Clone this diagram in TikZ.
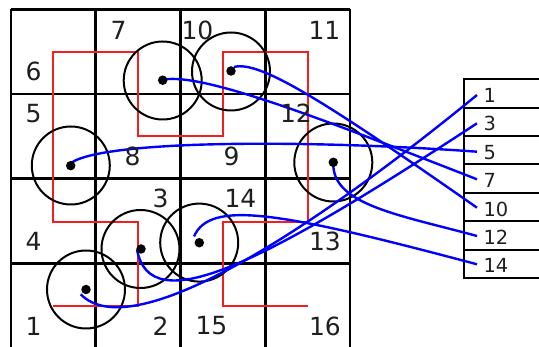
\documentclass[tikz,border=0pt]{standalone}
\usepackage{fontspec}
\setmainfont{DejaVu Sans}
\definecolor{hred}{RGB}{245,30,30}
\begin{document}
\begin{tikzpicture}[x=1pt,y=-1pt,
  gridline/.style={line width=2.6pt},
  hil/.style={draw=hred, line width=1.6pt},
  ring/.style={draw, circle, line width=2pt, minimum size=78pt, inner sep=0pt},
  dotn/.style={fill, circle, minimum size=9.5pt, inner sep=0pt},
  link/.style={draw=blue, line width=2.4pt},
  clab/.style={font=\fontsize{25}{30}\selectfont, inner sep=0pt, text=black!88},
  tlab/.style={font=\fontsize{19.4}{23}\selectfont, inner sep=0pt, anchor=west, text=black!88},
  tline/.style={line width=2pt}]
\useasboundingbox (0,0) rectangle (539,347);
% grid
\foreach \x in {11,95.75,180.5,265.25,350}
  \draw[gridline] (\x,9.3) -- (\x,349);
\foreach \y in {9.3,94.05,178.8,263.55,348.3}
  \draw[gridline] (11,\y) -- (350,\y);
% table
\draw[tline] (545,79.3) -- (464.3,79.3) -- (464.3,278.1) -- (545,278.1);
\foreach \y in {107.7,136.1,164.5,192.9,221.3,249.7}
  \draw[tline] (464.3,\y) -- (545,\y);
% hilbert path
\draw[hil] (53,306) -- (138,306) -- (138,222) -- (53,222) -- (53,52)
  -- (138,52) -- (138,136) -- (223,136) -- (223,52) -- (308,52)
  -- (308,222) -- (223,222) -- (223,306) -- (308,306);
% circles
\node[ring] (c1) at (86,289.5) {};
\node[ring] (c3) at (140.5,249) {};
\node[ring] (c5) at (70.8,165.5) {};
\node[ring] (c7) at (162.7,80.5) {};
\node[ring] (c10) at (231,71.5) {};
\node[ring] (c12) at (333.3,162.5) {};
\node[ring] (c14) at (199.2,242.6) {};
% curve start points and row ends
\coordinate (s1) at (80.7,294.3);
\coordinate (s3) at (137,249.5);
\coordinate (s5) at (68,165.5);
\coordinate (s7) at (164,79.5);
\coordinate (s10) at (234,67);
\coordinate (s12) at (333.3,164);
\coordinate (s14) at (194,236.5);
\coordinate (e1) at (477,95);
\coordinate (e3) at (477,123.3);
\coordinate (e5) at (477,151.7);
\coordinate (e7) at (477,179.3);
\coordinate (e10) at (477,207.7);
\coordinate (e12) at (477,236);
\coordinate (e14) at (477,264.3);
% blue links
\draw[link] (s1) .. controls (130,345) and (300,240) .. (e1);
\draw[link] (s3) .. controls (150,320) and (258,267) .. (e3);
\draw[link] (s5) .. controls (90,140) and (300,139) .. (e5);
\draw[link] (s7) .. controls (205,73) and (327,120.8) .. (e7);
\draw[link] (s10) .. controls (260,60) and (327,103) .. (e10);
\draw[link] (s12) .. controls (333,205) and (400,215) .. (e12);
\draw[link] (s14) .. controls (210,200) and (277,211) .. (e14);
% dots
\node[dotn] (d1) at (86,289.5) {};
\node[dotn] (d3) at (141,249) {};
\node[dotn] (d5) at (70.7,165.7) {};
\node[dotn] (d7) at (162.7,80.2) {};
\node[dotn] (d10) at (231,71) {};
\node[dotn] (d12) at (333.3,162.3) {};
\node[dotn] (d14) at (199.3,242.7) {};
% cell labels
\node[clab] (n1) at (33.5,326) {1};
\node[clab] (n2) at (160.5,326) {2};
\node[clab] (n3) at (160.5,198.5) {3};
\node[clab] (n4) at (33.5,241.5) {4};
\node[clab] (n5) at (33.5,113.5) {5};
\node[clab] (n6) at (33.5,71.5) {6};
\node[clab] (n7) at (118.5,30) {7};
\node[clab] (n8) at (132.5,156) {8};
\node[clab] (n9) at (231.5,156) {9};
\node[clab] (n10) at (197.5,30) {10};
\node[clab] (n11) at (324.5,30) {11};
\node[clab] (n12) at (296,113.5) {12};
\node[clab] (n13) at (325,241.5) {13};
\node[clab] (n14) at (240.5,198.5) {14};
\node[clab] (n15) at (211.5,326) {15};
\node[clab] (n16) at (325,326) {16};
% table labels
\node[tlab] (t1) at (483.3,95.5) {1};
\node[tlab] (t3) at (483.3,123.9) {3};
\node[tlab] (t5) at (483.3,152.3) {5};
\node[tlab] (t7) at (483.3,180.7) {7};
\node[tlab] (t10) at (483.3,209.1) {10};
\node[tlab] (t12) at (483.3,237.5) {12};
\node[tlab] (t14) at (483.3,265.9) {14};
\end{tikzpicture}
\end{document}
